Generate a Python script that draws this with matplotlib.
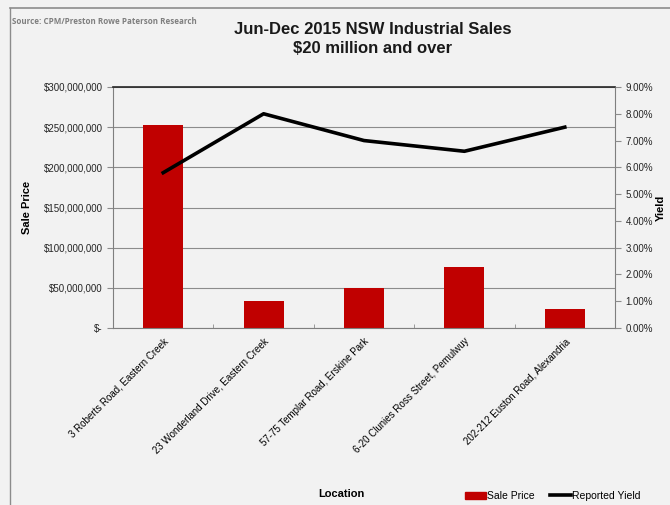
import matplotlib.pyplot as plt
import numpy as np
from matplotlib.lines import Line2D
from matplotlib.patches import Patch
from matplotlib.ticker import FuncFormatter, MultipleLocator

plt.rcParams['font.family'] = ['Liberation Sans', 'DejaVu Sans']

locations = ["3 Roberts Road, Eastern Creek", "23 Wonderland Drive, Eastern Creek",
             "57-75 Templar Road, Erskine Park", "6-20 Clunies Ross Street, Pemulwuy",
             "202-212 Euston Road, Alexandria"]
sale_price = [253_000_000, 33_500_000, 49_500_000, 76_500_000, 23_500_000]
reported_yield = [5.8, 8.0, 7.0, 6.6, 7.5]

BG = "#f2f2f2"
RED = "#c00000"


def money(v, pos):
    if v == 0:
        return "$-"
    return f"${v:,.0f}"


figure = plt.figure(figsize=(6.7, 5.05), dpi=100, facecolor=BG)
axis = figure.add_axes([113 / 670, 1 - 328 / 505, 502 / 670, 241 / 505])
axis.set_facecolor(BG)

x = np.arange(len(locations))
axis.bar(x, sale_price, width=0.4, color=RED, zorder=2)
axis.set_xlim(-0.5, len(locations) - 0.5)
axis.set_ylim(0, 300_000_000)
axis.yaxis.set_major_locator(MultipleLocator(50_000_000))
axis.yaxis.set_major_formatter(FuncFormatter(money))
axis.grid(axis="y", color="#8c8c8c", linewidth=0.8, zorder=0)
axis.set_axisbelow(True)

axis.set_xticks(x)
axis.set_xticklabels(locations, rotation=45, ha="right", rotation_mode="anchor", fontsize=7)
axis.tick_params(axis="x", length=0, pad=6)
axis.set_xticks(np.arange(len(locations) + 1) - 0.5, minor=True)
axis.tick_params(axis="x", which="minor", direction="in", length=3, color="#8c8c8c")
axis.tick_params(axis="y", labelsize=7, length=4, color="#8c8c8c", colors="#262626")
for side in ["left", "right", "bottom"]:
    axis.spines[side].set_color("#7f7f7f")
axis.spines["top"].set_color("#262626")
axis.spines["top"].set_linewidth(1.2)

axis.set_ylabel("Sale Price", fontsize=8, fontweight="bold", labelpad=8)
axis.set_xlabel("Location", fontsize=8, fontweight="bold")
axis.xaxis.set_label_coords(0.455, -0.67)

axis2 = axis.twinx()
axis2.plot(x, reported_yield, color="black", linewidth=2.6, zorder=3)
axis2.set_ylim(0, 9)
axis2.yaxis.set_major_locator(MultipleLocator(1))
axis2.yaxis.set_major_formatter(FuncFormatter(lambda v, p: f"{v:.2f}%"))
axis2.tick_params(axis="y", labelsize=7, length=4, color="#8c8c8c", colors="#262626")
for side in ["left", "right", "bottom", "top"]:
    axis2.spines[side].set_visible(False)
axis2.set_ylabel("Yield", fontsize=8, fontweight="bold", labelpad=2)

figure.text(373 / 670, 1 - 22 / 505, "Jun-Dec 2015 NSW Industrial Sales\n$20 million and over",
            ha="center", va="top", fontsize=12, fontweight="bold", linespacing=1.3, color="#1a1a1a")
figure.text(12 / 670, 1 - 22 / 505, "Source: CPM/Preston Rowe Paterson Research",
            fontsize=5.8, color="#7f7f7f", fontweight="bold", family=["Open Sans", "DejaVu Sans"],
            va="center")

legend = [Patch(color=RED, label="Sale Price"), Line2D([0], [0], color="black", linewidth=2.6, label="Reported Yield")]
figure.legend(handles=legend, loc="center right", bbox_to_anchor=(650 / 670, 1 - 496 / 505), ncol=2,
              frameon=False, fontsize=7.5, handlelength=2.0, handletextpad=0.1, columnspacing=1.5)

# border lines on top and left like the source image
figure.add_artist(Line2D([10 / 670, 1], [1 - 8 / 505] * 2, color="#8c8c8c", linewidth=1.2))
figure.add_artist(Line2D([10 / 670] * 2, [0, 1 - 8 / 505], color="#8c8c8c", linewidth=1.0))

plt.savefig("out.png", dpi=100, facecolor=BG)
plt.close()
